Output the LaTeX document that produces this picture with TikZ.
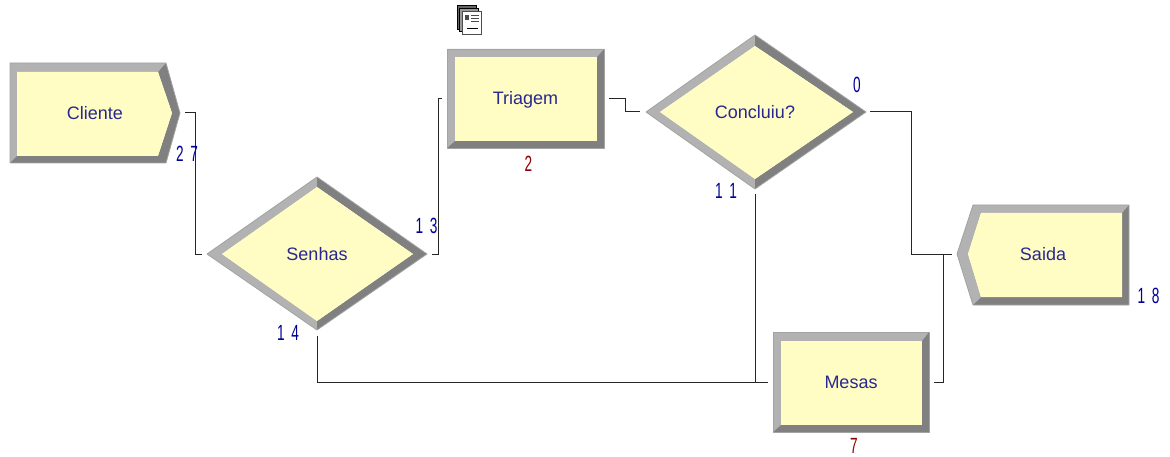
\documentclass[tikz,border=0pt]{standalone}
\usepackage{fontspec}
\setmainfont{Liberation Sans}
\definecolor{modtext}{RGB}{40,40,145}
\newcommand{\cntbox}[1]{\scalebox{.62}[1]{\fontsize{22}{24}\selectfont\spaceskip=.5em\relax #1}}

\begin{document}
\begin{tikzpicture}[x=1pt,y=-1pt,
  lite/.style={fill=black!30},dark/.style={fill=black!50},face/.style={fill=yellow!23!white},
  rim/.style={draw=black!36,line width=.8pt,line join=round},
  mod/.style={inner sep=0,outer sep=5pt,text=modtext,text height=12.5pt,text depth=0pt,font=\fontsize{18}{20}\selectfont},
  flow/.style={draw=black!85,line width=1pt},
  count/.style={inner sep=0,text=blue!60!black},
  queue/.style={inner sep=0,text=red!55!black}]
  \useasboundingbox (0,0) rectangle (1170,457);

  % Cliente
  \fill[lite] (10,63) -- (166,63) -- (158,72) -- (17,72) -- (17,156) -- (10,163) -- cycle;
  \fill[dark] (166,63) -- (180,113) -- (172,113) -- (158,72) -- cycle;
  \fill[dark] (180,113) -- (166,163) -- (10,163) -- (17,156) -- (158,156) -- (172,113) -- cycle;
  \fill[face] (17,72) -- (158,72) -- (172,113) -- (158,156) -- (17,156) -- cycle;
  \draw[rim] (10,63) -- (166,63) -- (180,113) -- (166,163) -- (10,163) -- cycle;
  % Senhas
  \fill[lite] (207,254) -- (317,177) -- (317,187) -- (222,254) -- (317,321) -- (317,330) -- cycle;
  \fill[dark] (317,177) -- (427,254) -- (317,330) -- (317,321) -- (413,254) -- (317,187) -- cycle;
  \fill[face] (222,254) -- (317,187) -- (413,254) -- (317,321) -- cycle;
  \draw[rim] (207,254) -- (317,177) -- (427,254) -- (317,330) -- cycle;
  % Triagem
  \fill[lite] (447,49) -- (604,49) -- (597,57) -- (455,57) -- (455,141) -- (447,148) -- cycle;
  \fill[dark] (604,49) -- (604,148) -- (447,148) -- (455,141) -- (597,141) -- (597,57) -- cycle;
  \fill[face] (455,57) rectangle (597,141);
  \draw[rim] (447,49) rectangle (604,148);
  % Concluiu?
  \fill[lite] (646,112) -- (755,35) -- (755,46) -- (660,112) -- (755,179) -- (755,189) -- cycle;
  \fill[dark] (755,35) -- (866,112) -- (755,189) -- (755,179) -- (853,112) -- (755,46) -- cycle;
  \fill[face] (660,112) -- (755,46) -- (853,112) -- (755,179) -- cycle;
  \draw[rim] (646,112) -- (755,35) -- (866,112) -- (755,189) -- cycle;
  % Saida
  \fill[lite] (973,205) -- (1129,205) -- (1122,213) -- (981,213) -- (968,254) -- (981,297) -- (973,305) -- (957,254) -- cycle;
  \fill[dark] (1129,205) -- (1129,305) -- (973,305) -- (981,297) -- (1122,297) -- (1122,213) -- cycle;
  \fill[face] (981,213) -- (1122,213) -- (1122,297) -- (981,297) -- (968,254) -- cycle;
  \draw[rim] (973,205) -- (1129,205) -- (1129,305) -- (973,305) -- (957,254) -- cycle;
  % Mesas
  \fill[lite] (773,332) -- (929,332) -- (922,341) -- (781,341) -- (781,425) -- (773,432) -- cycle;
  \fill[dark] (929,332) -- (929,432) -- (773,432) -- (781,425) -- (922,425) -- (922,341) -- cycle;
  \fill[face] (781,341) rectangle (922,425);
  \draw[rim] (773,332) rectangle (929,432);

  \node[mod,minimum width=170pt,minimum height=100pt] (cliente) at (95,113) {Cliente};
  \node[mod,minimum width=220pt,minimum height=153pt] (senhas) at (317,254) {Senhas};
  \node[mod,minimum width=157pt,minimum height=99pt] (triagem) at (525.5,98.5) {Triagem};
  \node[mod,minimum width=220pt,minimum height=154pt] (concluiu) at (755,112) {Concluiu?};
  \node[mod,minimum width=172pt,minimum height=100pt] (saida) at (1043,254) {Saida};
  \node[mod,minimum width=156pt,minimum height=100pt] (mesas) at (851,382) {Mesas};

  \coordinate (bendA) at (195,254);
  \coordinate (bendB) at (438,98.5);
  \coordinate (bendC) at (625,112);
  \coordinate (bendD) at (911,254);
  \coordinate (bendE) at (943,254);

  \draw[flow] (cliente.east) -| (bendA) -- (senhas.west);
  \draw[flow] (senhas.east) -| (bendB) -- (triagem.west);
  \draw[flow] (triagem.east) -| (bendC) -- (concluiu.west);
  \draw[flow] (concluiu.east) -| (bendD) -- (saida.west);
  \draw[flow] (concluiu.south) -- (concluiu.south |- mesas.west);
  \draw[flow] (senhas.south) |- (mesas.west);
  \draw[flow] (mesas.east) -| (bendE);

  \node[count] (clienteOut) at (187,153.5) {\cntbox{2 7}};
  \node[count] (senhasYes) at (426.5,226) {\cntbox{1 3}};
  \node[count] (senhasNo) at (288,333) {\cntbox{1 4}};
  \node[queue] (triagemQueue) at (528.5,163.5) {\cntbox{2}};
  \node[count] (concluiuNo) at (726,191) {\cntbox{1 1}};
  \node[count] (concluiuYes) at (857,84.5) {\cntbox{0}};
  \node[count] (saidaOut) at (1148.5,296) {\cntbox{1 8}};
  \node[queue] (mesasQueue) at (854,446) {\cntbox{7}};

  % report icon
  \draw[fill=black!60,line width=.7pt] (457.5,5.5) rectangle (476,29);
  \draw[fill=black!40,line width=.7pt] (459.5,8) rectangle (478,31.5);
  \draw[fill=white,line width=.7pt,draw=black!70] (462.5,11) rectangle (481.5,34);
  \fill[black!70] (465,15) rectangle (469,20);
  \draw[black!70,line width=.7pt] (471,15) -- (479,15) (471,18) -- (479,18) (471,21) -- (479,21);
  \draw[black,line width=1.2pt] (467,28.5) -- (478,28.5);
\end{tikzpicture}
\end{document}
